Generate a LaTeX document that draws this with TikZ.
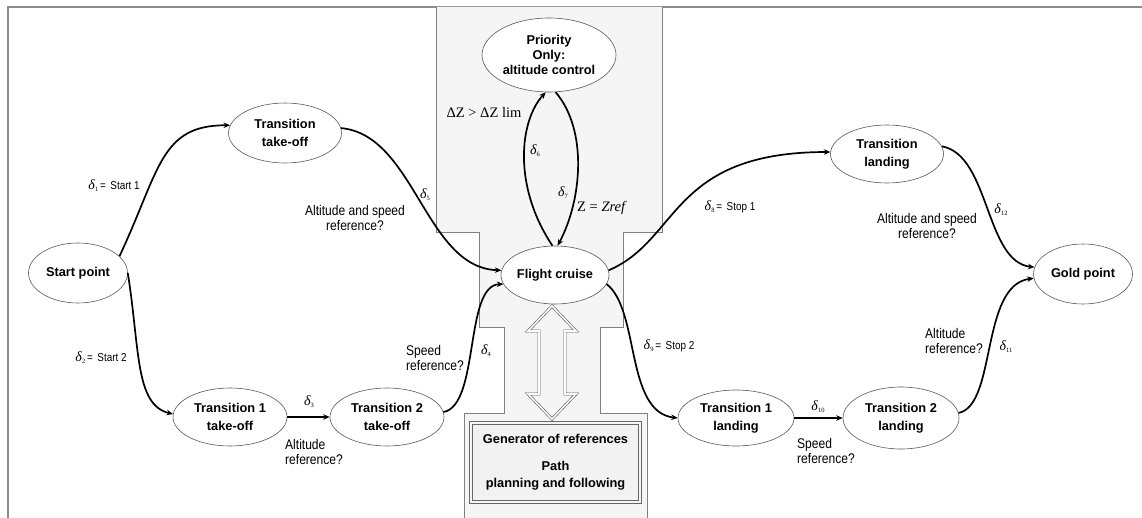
\documentclass[tikz,border=0pt]{standalone}
\usepackage{fontspec}
\setmainfont{Liberation Sans}
\newfontfamily\narrowsans[FakeStretch=0.86]{Liberation Sans}
\newfontfamily\serifrm{Liberation Serif}
\usetikzlibrary{shapes.geometric,arrows.meta}
\newcommand{\dsub}[1]{{\fontsize{14}{14}\selectfont\serifrm\itshape δ}\kern0.2pt\raisebox{-2pt}{\fontsize{6.5}{6.5}\selectfont\serifrm #1}}
\newcommand{\smalllab}[1]{{\narrowsans\fontsize{11.5}{12}\selectfont #1}}
\begin{document}
\begin{tikzpicture}[x=1pt,y=-1pt,
  st/.style={ellipse, draw=black!65, line width=0.6pt, fill=white, inner sep=0pt, align=center,
             font=\bfseries\fontsize{12.8}{18.5}\selectfont},
  tr/.style={line width=1.7pt, -{Stealth[length=6.5pt,width=5.5pt]}},
  lbl/.style={font=\narrowsans\fontsize{14}{15.5}\selectfont, inner sep=0pt},
  dlab/.style={inner sep=0pt},
  panel/.style={draw=black!50, line width=0.8pt},
]
\useasboundingbox (0,0) rectangle (1142,518);
% outer frame
\draw[black!45, line width=1.2pt] (8,518) -- (8,7) -- (1142,7);
% central panel
\fill[black!4] (436,7) -- (436,232) -- (479,232) -- (479,327) -- (504,327) -- (504,413) -- (464,413) -- (464,518)
   -- (647,518) -- (647,413) -- (600,413) -- (600,327) -- (623,327) -- (623,232) -- (662,232) -- (662,7) -- cycle;
\draw[panel] (436,7) -- (436,232) -- (479,232) -- (479,327) -- (504,327) -- (504,413) -- (464,413) -- (464,518);
\draw[panel] (662,7) -- (662,232) -- (623,232) -- (623,327) -- (600,327) -- (600,413) -- (647,413) -- (647,518);

% generator box
\node[draw=black!60, line width=0.6pt, double=black!4, double distance=2pt, fill=black!5,
      minimum width=169pt, minimum height=79pt, inner sep=0pt, align=center,
      font=\bfseries\fontsize{12.8}{17}\selectfont] (gen) at (555.5,462.5)
      {Generator of references\\[10pt]Path\\planning and following};

% double arrow between cruise and generator
\draw[black!65, line width=0.6pt, double=white, double distance=1.6pt]
  (552,306) -- (576,331) -- (565,331) -- (565,394) -- (576,394) -- (552,419) -- (528,394)
  -- (539,394) -- (539,331) -- (528,331) -- cycle;

% states
\node[st, minimum width=99pt, minimum height=60pt] (start) at (78,273) {Start point};
\node[st, minimum width=113pt, minimum height=60pt] (tto) at (285,133) {Transition\\take-off};
\node[st, minimum width=114pt, minimum height=58pt] (t1to) at (230,417) {Transition 1\\take-off};
\node[st, minimum width=114pt, minimum height=58pt] (t2to) at (387,417) {Transition 2\\take-off};
\node[st, minimum width=108pt, minimum height=58pt] (fc) at (555,275) {Flight cruise};
\node[st, minimum width=134pt, minimum height=74pt, font=\bfseries\fontsize{12.8}{15}\selectfont] (pri) at (549,55) {Priority\\Only:\\altitude control};
\node[st, minimum width=113pt, minimum height=58pt] (tl) at (887,154) {Transition\\landing};
\node[st, minimum width=116pt, minimum height=56pt] (t1l) at (736,418) {Transition 1\\landing};
\node[st, minimum width=116pt, minimum height=62pt] (t2l) at (901,418) {Transition 2\\landing};
\node[st, minimum width=99pt, minimum height=60pt] (gold) at (1083,274) {Gold point};

% transitions
\draw[tr] (start.22) .. controls (160,170) and (160,125) .. (tto.172);
\draw[tr] (start.east) .. controls (140,350) and (135,405) .. (t1to.177);
\draw[tr] (tto.5) .. controls (415,135) and (425,268) .. (fc.175);
\draw[tr] (t1to.east) -- (t2to.west);
\draw[tr] (t2to.5) .. controls (480,405) and (464,285) .. (fc.190);
\draw[tr] (fc.95) .. controls (512,185) and (520,120) .. (pri.265);
\draw[tr] (pri.280) .. controls (588,130) and (582,200) .. (fc.85);
\draw[tr] (fc.5) .. controls (680,240) and (670,152) .. (tl.178);
\draw[tr] (fc.350) .. controls (640,310) and (625,412) .. (t1l.west);
\draw[tr] (t1l.east) -- (t2l.west);
\draw[tr] (t2l.5) .. controls (997,405) and (980,285) .. (gold.185);
\draw[tr] (tl.8) .. controls (990,155) and (985,262) .. (gold.172);

% labels
\node[dlab] (d1) at (114,186) {\dsub{1}\,\smalllab{= \,Start 1}};
\node[dlab] (d2) at (101,358) {\dsub{2}\,\smalllab{= \,Start 2}};
\node[lbl, align=center] (q1) at (355,218) {Altitude and speed\\reference?};
\node[dlab] (d5) at (425,195) {\dsub{5}};
\node[dlab] (d3) at (309,402) {\dsub{3}};
\node[lbl, align=left, anchor=west] (q2) at (285,452) {Altitude\\reference?};
\node[lbl, align=left, anchor=west] (q3) at (406,358) {Speed\\reference?};
\node[dlab] (d4) at (486,351) {\dsub{4}};
\node[dlab, font=\serifrm\fontsize{14.5}{15}\selectfont] (dz) at (484,112) {ΔZ > ΔZ lim};
\node[dlab] (d6) at (535,151) {\dsub{6}};
\node[dlab] (d7) at (563,193) {\dsub{7}};
\node[dlab, font=\serifrm\fontsize{14.5}{15}\selectfont] (zr) at (602,208) {Z = \textit{Zref}};
\node[dlab] (d8) at (730,207) {\dsub{8}\,\smalllab{= \,Stop 1}};
\node[dlab] (d9) at (669,346) {\dsub{9}\,\smalllab{= \,Stop 2}};
\node[dlab] (d10) at (818,407) {\dsub{10}};
\node[lbl, align=left, anchor=west] (q4) at (797,451) {Speed\\reference?};
\node[lbl, align=left, anchor=west] (q5) at (925,341) {Altitude\\reference?};
\node[dlab] (d11) at (1006,347) {\dsub{11}};
\node[lbl, align=center] (q6) at (927,226) {Altitude and speed\\reference?};
\node[dlab] (d12) at (1001,210) {\dsub{12}};
\end{tikzpicture}
\end{document}
